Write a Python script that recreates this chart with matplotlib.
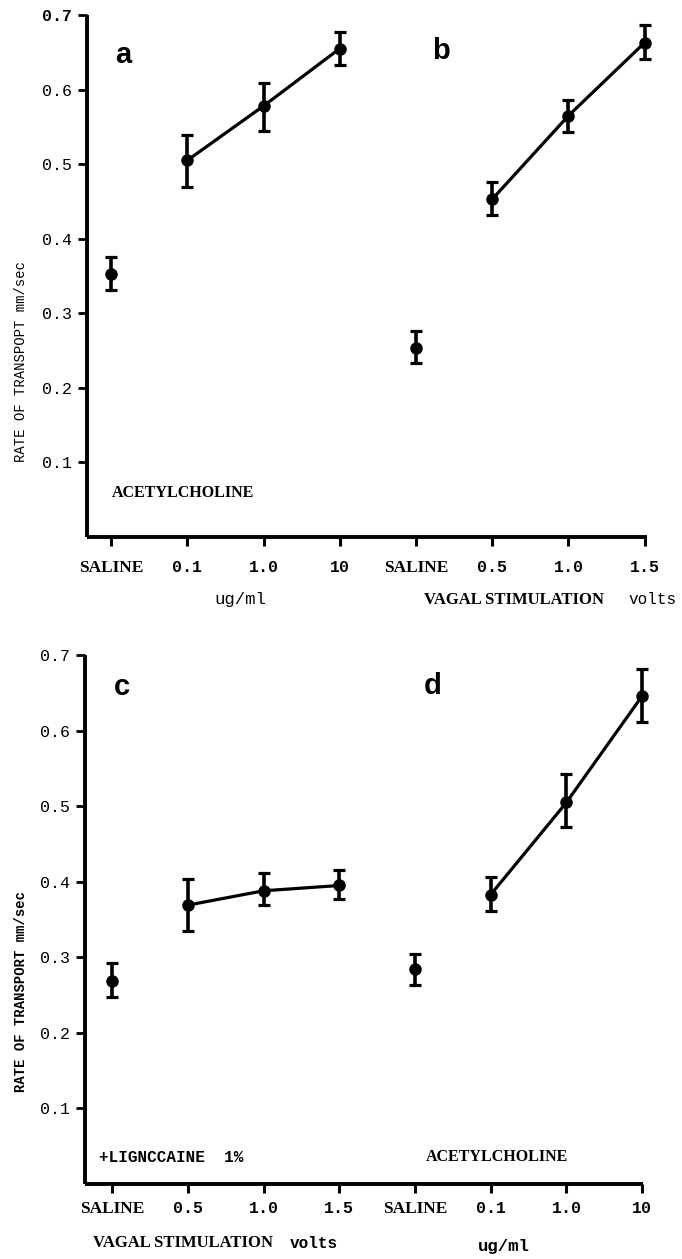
import matplotlib
matplotlib.use("Agg")
import matplotlib.pyplot as plt

# ---------------- data ----------------
positions = [0, 1, 2, 3, 4, 5, 6, 7]
top_ticklabels = ["SALINE", "0.1", "1.0", "10", "SALINE", "0.5", "1.0", "1.5"]
bottom_ticklabels = ["SALINE", "0.5", "1.0", "1.5", "SALINE", "0.1", "1.0", "10"]
yticks = [0.1, 0.2, 0.3, 0.4, 0.5, 0.6, 0.7]

# panel a: acetylcholine (saline, 0.1, 1.0, 10 ug/ml)
a_mean = [0.353, 0.505, 0.578, 0.655]
a_low = [0.331, 0.470, 0.544, 0.633]
a_high = [0.376, 0.539, 0.609, 0.677]
# panel b: vagal stimulation (saline, 0.5, 1.0, 1.5 volts)
b_mean = [0.254, 0.453, 0.565, 0.663]
b_low = [0.233, 0.432, 0.543, 0.641]
b_high = [0.276, 0.476, 0.586, 0.687]
# panel c: vagal stimulation + lignocaine 1%
c_mean = [0.269, 0.369, 0.388, 0.395]
c_low = [0.247, 0.335, 0.369, 0.377]
c_high = [0.293, 0.404, 0.411, 0.416]
# panel d: acetylcholine
d_mean = [0.284, 0.383, 0.505, 0.646]
d_low = [0.263, 0.361, 0.473, 0.612]
d_high = [0.305, 0.406, 0.542, 0.681]

W, H = 682, 1259
MONO = "Liberation Mono"
SERIF = "Liberation Serif"
SANS = "Liberation Sans"

fig = plt.figure(figsize=(W / 100, H / 100), dpi=100)
fig.patch.set_facecolor("white")


def fx(x):
    return x / W


def fy(y):
    return 1 - y / H


def draw_group(ax, xs, mean, low, high):
    yerr = [[m - l for m, l in zip(mean, low)], [h - m for m, h in zip(mean, high)]]
    eb = ax.errorbar(xs, mean, yerr=yerr, fmt="o", color="black", ms=8,
                     elinewidth=2.6, capsize=4.3, capthick=2.3, zorder=3)
    for art in eb.lines[0:1] + tuple(eb.lines[1]) + tuple(eb.lines[2]):
        art.set_clip_on(False)
    ax.plot(xs[1:], mean[1:], color="black", lw=2.3, zorder=2, clip_on=False)


def setup(ax, labels, xlim, xpad):
    ax.set_xlim(*xlim)
    ax.set_ylim(0, 0.7)
    for s in ("top", "right"):
        ax.spines[s].set_visible(False)
    for s in ("left", "bottom"):
        ax.spines[s].set_linewidth(2.8)
        ax.spines[s].set_capstyle("butt")
    ax.set_yticks(yticks)
    ax.set_yticklabels([f"{v:.1f}" for v in yticks], family=MONO, fontsize=12)
    ax.set_xticks(positions)
    ax.set_xticklabels(labels, family=MONO, fontsize=12, fontweight="bold")
    for lab in ax.get_xticklabels():
        if lab.get_text() == "SALINE":
            lab.set_family(SERIF)
            lab.set_fontsize(12.5)
    ax.tick_params(axis="y", direction="out", length=6.5, width=2.0, pad=4)
    ax.tick_params(axis="x", direction="out", length=6.5, width=2.2, pad=xpad)


# ---------------- top panel (a, b) ----------------
ax1 = fig.add_axes([fx(87), fy(537), (647 - 87) / W, (537 - 15) / H])
setup(ax1, top_ticklabels, (-0.315, 7.03), 10)
ax1.get_yticklabels()[-1].set_fontweight("bold")
draw_group(ax1, positions[0:4], a_mean, a_low, a_high)
draw_group(ax1, positions[4:8], b_mean, b_low, b_high)

# ---------------- bottom panel (c, d) ----------------
ax2 = fig.add_axes([fx(85), fy(1184), (643 - 85) / W, (1184 - 655) / H])
setup(ax2, bottom_ticklabels, (-0.357, 7.01), 6)
draw_group(ax2, positions[0:4], c_mean, c_low, c_high)
draw_group(ax2, positions[4:8], d_mean, d_low, d_high)

# ---------------- texts ----------------
letter_kw = dict(ha="center", va="center", fontsize=21, fontweight="bold", family=SANS)
fig.text(fx(123), fy(55), "a", **letter_kw)
fig.text(fx(441), fy(51), "b", **letter_kw)
fig.text(fx(122), fy(687), "c", **letter_kw)
fig.text(fx(433), fy(686), "d", **letter_kw)

fig.text(fx(21), fy(362), "RATE OF TRANSPOPT mm/sec", rotation=90,
         ha="center", va="center", family=MONO, fontsize=10)
fig.text(fx(21), fy(992), "RATE OF TRANSPORT mm/sec", rotation=90,
         ha="center", va="center", family=MONO, fontsize=10, fontweight="bold")

fig.text(fx(112), fy(493), "ACETYLCHOLINE", ha="left", va="center",
         family=SERIF, fontweight="bold", fontsize=11.5)
fig.text(fx(240), fy(600), "ug/ml", ha="center", va="center", family=MONO, fontsize=12.5)
fig.text(fx(424), fy(600), "VAGAL STIMULATION", ha="left", va="center",
         family=SERIF, fontweight="bold", fontsize=12)
fig.text(fx(677), fy(600), "volts", ha="right", va="center", family=MONO, fontsize=11.5)

fig.text(fx(99), fy(1157), "+LIGNCCAINE  1%", ha="left", va="center",
         family=MONO, fontsize=11.5, fontweight="bold")
fig.text(fx(426), fy(1157), "ACETYLCHOLINE", ha="left", va="center",
         family=SERIF, fontweight="bold", fontsize=11.5)
fig.text(fx(93), fy(1243), "VAGAL STIMULATION", ha="left", va="center",
         family=SERIF, fontweight="bold", fontsize=12)
fig.text(fx(338), fy(1243), "volts", ha="right", va="center",
         family=MONO, fontsize=11.5, fontweight="bold")
fig.text(fx(504), fy(1247), "ug/ml", ha="center", va="center",
         family=MONO, fontsize=12.5, fontweight="bold")

fig.savefig("out.png", dpi=100)
